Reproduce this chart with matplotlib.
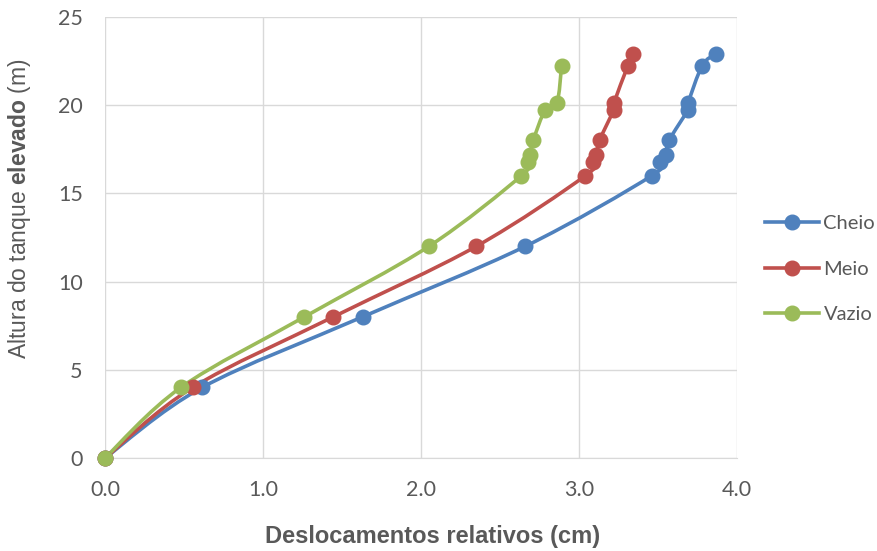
import matplotlib
matplotlib.use("Agg")
import matplotlib.pyplot as plt
from matplotlib.path import Path
from matplotlib.patches import PathPatch
from matplotlib.lines import Line2D
import numpy as np

plt.rcParams['font.family'] = ['Lato', 'DejaVu Sans']
plt.rcParams['mathtext.fontset'] = 'custom'
plt.rcParams['mathtext.rm'] = 'Liberation Sans'
plt.rcParams['mathtext.bf'] = 'Liberation Sans:bold'

# Data
heights = [0, 4, 8, 12, 16, 16.8, 17.2, 18, 19.75, 20.1, 22.25, 22.9]
cheio = [0, 0.615, 1.63, 2.66, 3.46, 3.51, 3.55, 3.57, 3.69, 3.69, 3.78, 3.865]
meio = [0, 0.555, 1.445, 2.35, 3.04, 3.09, 3.11, 3.13, 3.22, 3.22, 3.31, 3.34]
vazio_h = [0, 4, 8, 12, 16, 16.8, 17.2, 18, 19.75, 20.1, 22.25]
vazio = [0, 0.48, 1.262, 2.05, 2.635, 2.68, 2.69, 2.71, 2.787, 2.86, 2.89]

series = [("Cheio", cheio, heights, "#4F81BD"),
          ("Meio", meio, heights, "#C0504D"),
          ("Vazio", vazio, vazio_h, "#9BBB59")]

text_color = "#595959"
grid_color = "#D9D9D9"

fig = plt.figure(figsize=(8.77, 5.51), dpi=100)
ax = fig.add_axes([105/877, 93/551, 632/877, 441/551])


def smooth_path(xs, ys):
    pts = np.column_stack([xs, ys]).astype(float)
    n = len(pts)
    verts = [pts[0]]
    codes = [Path.MOVETO]
    for i in range(n - 1):
        p0 = pts[i - 1] if i > 0 else pts[i]
        p1 = pts[i]
        p2 = pts[i + 1]
        p3 = pts[i + 2] if i + 2 < n else pts[i + 1]
        c1 = p1 + (p2 - p0) / 6.0
        c2 = p2 - (p3 - p1) / 6.0
        verts += [c1, c2, p2]
        codes += [Path.CURVE4] * 3
    return Path(verts, codes)


handles = []
for name, xs, ys, col in series:
    patch = PathPatch(smooth_path(xs, ys), facecolor='none', edgecolor=col,
                      lw=2.6, capstyle='round', joinstyle='round', zorder=3,
                      clip_on=False)
    ax.add_patch(patch)
    ax.plot(xs, ys, linestyle='none', marker='o', markersize=10.5,
            color=col, zorder=4, clip_on=False)
    handles.append(Line2D([], [], color=col, lw=2.6, marker='o',
                          markersize=10.5, label=name))

ax.set_xlim(0, 4.0)
ax.set_ylim(0, 25)
ax.set_xticks([0, 1, 2, 3, 4])
ax.set_xticklabels(["0.0", "1.0", "2.0", "3.0", "4.0"])
ax.set_yticks([0, 5, 10, 15, 20, 25])
ax.grid(True, color=grid_color, lw=1)
ax.set_axisbelow(True)
for s in ax.spines.values():
    s.set_visible(False)
ax.spines['bottom'].set_visible(True)
ax.spines['bottom'].set_color(grid_color)
ax.tick_params(axis='both', length=0, labelsize=15.5, colors=text_color)
ax.tick_params(axis='x', pad=16)
ax.tick_params(axis='y', pad=16)
for lab in ax.get_xticklabels() + ax.get_yticklabels():
    lab.set_color(text_color)

fig.text(433/877, 1 - 536/551, "Deslocamentos relativos (cm)",
         family='Liberation Sans', fontweight='bold', fontsize=17,
         color=text_color, ha='center', va='center')
fig.text(20/877, 1 - 209/551, "Altura do tanque $\\bf{elevado}$ (m)",
         family='Liberation Sans', fontsize=16.5, color=text_color,
         rotation=90, ha='center', va='center')

leg = fig.legend(handles=handles, loc='center left',
                 bbox_to_anchor=(757/877, 1 - 269/551), frameon=False,
                 fontsize=14.5, labelspacing=1.4, handlelength=2.7,
                 handletextpad=0.2, borderaxespad=0)
for t in leg.get_texts():
    t.set_color(text_color)

fig.savefig("out.png", dpi=100)
